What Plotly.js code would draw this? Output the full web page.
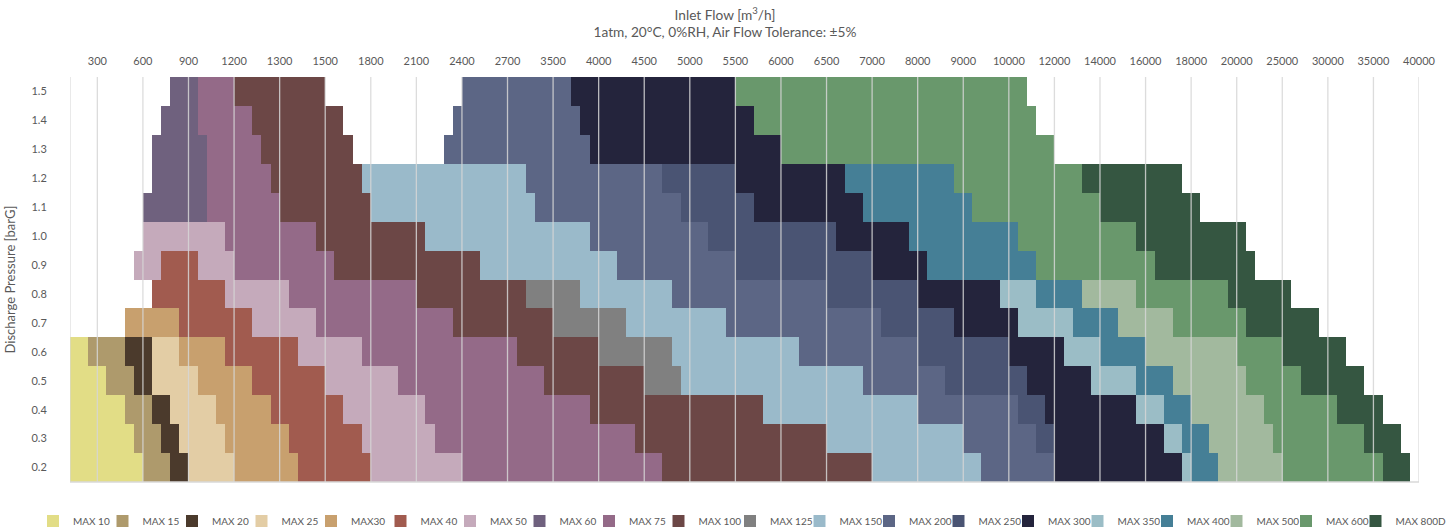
<!DOCTYPE html>
<html>
<head>
<meta charset="utf-8">
<script src="https://cdn.plot.ly/plotly-3.0.1.min.js"></script>
<style>html,body{margin:0;padding:0;background:#fff;}#chart{width:1450px;height:529px;}</style>
</head>
<body>
<div id="chart"></div>
<script>
// Discharge pressure rows (barG)
const pressures = [0.2, 0.3, 0.4, 0.5, 0.6, 0.7, 0.8, 0.9, 1.0, 1.1, 1.2, 1.3, 1.4, 1.5];
// Inlet flow tick labels (m3/h); each label sits every 5 grid steps starting at step 3
const flowTicks = ['300','600','900','1200','1300','1500','1800','2100','2400','2700','3500','4000','4500','5000','5500','6000','6500','7000','8000','9000','10000','12000','14000','16000','18000','20000','25000','30000','35000','40000'];
const tickStart = 3, tickStep = 5, gridMax = 148;

const models = ['MAX 10','MAX 15','MAX 20','MAX 25','MAX30','MAX 40','MAX 50','MAX 60','MAX 75','MAX 100','MAX 125','MAX 150','MAX 200','MAX 250','MAX 300','MAX 350','MAX 400','MAX 500','MAX 600','MAX 800D'];
const colors = ['#e2dd86','#ae9a6c','#4b3a2c','#e3cda5','#c8a06e','#a15b4f','#c5aabb','#6f617e','#946a88','#6c4746','#808080','#9abaca','#5c6685','#4a5473','#24243c','#9bbdc6','#457f96','#a2b99e','#69986c','#355641'];

const N = null;
// Flow range [from, to] per pressure row (0.2 ... 1.5), in flow-grid steps
const max10  = [[0,8],[0,7],[0,6],[0,4],[0,2],N,N,N,N,N,N,N,N,N];
const max15  = [[8,11],[7,10],[6,9],[4,7],[2,6],N,N,N,N,N,N,N,N,N];
const max20  = [[11,13],[10,12],[9,11],[7,9],[6,9],N,N,N,N,N,N,N,N,N];
const max25  = [[13,18],[12,17],[11,16],[9,14],[9,12],N,N,N,N,N,N,N,N,N];
const max30  = [[18,25],[17,24],[16,22],[14,20],[12,17],[6,12],N,N,N,N,N,N,N,N];
const max40  = [[25,33],[24,32],[22,30],[20,28],[17,25],[12,20],[9,17],[10,14],N,N,N,N,N,N];
const max50  = [[33,43],[32,40],[30,39],[28,36],[25,32],[20,27],[17,24],[7,18],[8,17],N,N,N,N,N];
const max60  = [N,N,N,N,N,N,N,N,N,[8,15],[9,15],[9,15],[10,14],[11,14]];
const max75  = [[43,65],[40,62],[39,57],[36,52],[32,49],[27,42],[24,38],[18,29],[17,27],[15,23],[15,22],[15,21],[14,20],[14,18]];
const max100 = [[65,88],[62,83],[57,76],[52,63],[49,58],[42,53],[38,50],[29,45],[27,39],[23,33],[22,32],[21,31],[20,30],[18,28]];
const max125 = [N,N,N,[63,67],[58,66],[53,61],[50,56],N,N,N,N,N,N,N];
const max150 = [[88,100],[83,98],[76,93],[67,87],[66,80],[61,72],[56,66],[45,60],[39,57],[33,51],[32,50],N,N,N];
const max200 = [[100,108],[98,106],[93,104],[87,96],[80,93],[72,89],[66,83],[60,73],[57,70],[51,67],[50,65],[41,57],[42,56],[43,55]];
const max250 = [N,[106,108],[104,107],[96,105],[93,103],[89,97],[83,93],[73,88],[70,84],[67,75],[65,73],N,N,N];
const max300 = [[108,122],[108,120],[107,117],[105,112],[103,109],[97,104],[93,102],[88,94],[84,92],[75,87],[73,85],[57,78],[56,75],[55,73]];
const max350 = [[122,123],[120,122],[117,120],[112,117],[109,113],[104,110],[102,106],N,N,N,N,N,N,N];
const max400 = [[123,126],[122,125],[120,123],[117,121],[113,118],[110,115],[106,111],[94,106],[92,104],[87,99],[85,97],N,N,N];
const max500 = [[126,133],[125,132],[123,131],[121,129],[118,128],[115,121],[111,117],N,N,N,N,N,N,N];
const max600 = [[133,144],[132,142],[131,139],[129,135],[128,133],[121,129],[117,127],[106,119],[104,117],[99,113],[97,111],[78,108],[75,106],[73,105]];
const max800d= [[144,147],[142,146],[139,144],[135,142],[133,140],[129,137],[127,134],[119,130],[117,129],[113,124],[111,122],N,N,N];

const ranges = [max10,max15,max20,max25,max30,max40,max50,max60,max75,max100,max125,max150,max200,max250,max300,max350,max400,max500,max600,max800d];

const FONT = 'Lato, "Open Sans", Arial, sans-serif';
const GREY = '#595959';

const traces = [];
models.forEach((name, i) => {
  const ys = [], bases = [], lens = [];
  ranges[i].forEach((r, k) => {
    if (r) { ys.push(pressures[k]); bases.push(r[0]); lens.push(r[1] - r[0]); }
  });
  const tr = {
    type: 'bar', orientation: 'h', name: name,
    y: ys, x: lens, base: bases, width: 0.1,
    marker: {color: colors[i], line: {width: 0}},
    legend: i < 10 ? 'legend' : 'legend2',
    legendrank: i + 1,
    hovertemplate: name + '<extra></extra>'
  };
  if (i === 9 || i === models.length - 1) tr.legendwidth = 60;
  traces.push(tr);
});
traces.reverse();

const tickVals = flowTicks.map((t, k) => tickStart + k * tickStep);

const shapes = [];
[0].concat(tickVals).forEach(v => {
  shapes.push({type: 'line', xref: 'x', yref: 'paper', x0: v, x1: v, y0: 0, y1: 1,
    layer: 'above', line: {color: 'rgba(214,214,214,0.85)', width: 1.3}});
});
shapes.push({type: 'line', xref: 'x', yref: 'paper', x0: 0, x1: gridMax, y0: 0, y1: 0,
  layer: 'above', line: {color: '#d9d9d9', width: 1.5}});

const legendBase = {
  orientation: 'h', xref: 'container', yref: 'container',
  xanchor: 'left', y: 0.0151, yanchor: 'middle',
  entrywidth: 24.5, entrywidthmode: 'pixels',
  font: {family: FONT, size: 10, color: GREY},
  bgcolor: 'rgba(0,0,0,0)', itemclick: false, itemdoubleclick: false
};

const layout = {
  width: 1450, height: 529,
  margin: {l: 70, r: 31, t: 77, b: 46.5},
  paper_bgcolor: '#ffffff', plot_bgcolor: '#ffffff',
  font: {family: FONT, color: GREY, size: 11},
  barmode: 'overlay',
  bargap: 0,
  title: {
    text: 'Inlet Flow [m<sup>3</sup>/h]<br>1atm, 20°C, 0%RH, Air Flow Tolerance: ±5%',
    font: {family: FONT, size: 13.7, color: GREY},
    x: 0.5, xanchor: 'center', xref: 'container',
    y: 0.963, yanchor: 'top', yref: 'container'
  },
  xaxis: {
    side: 'top', range: [0, gridMax],
    tickmode: 'array', tickvals: tickVals, ticktext: flowTicks,
    showgrid: false, zeroline: false, showline: false,
    ticks: 'outside', ticklen: 7, tickcolor: 'rgba(0,0,0,0)',
    tickfont: {family: FONT, size: 11, color: GREY},
    fixedrange: true
  },
  yaxis: {
    range: [0.15, 1.55],
    tickmode: 'array', tickvals: pressures, ticktext: pressures.map(p => p.toFixed(1)),
    showgrid: false, zeroline: false, showline: false,
    ticks: 'outside', ticklen: 20, tickcolor: 'rgba(0,0,0,0)',
    tickfont: {family: FONT, size: 11, color: GREY},
    title: {text: 'Discharge Pressure [barG]', font: {family: FONT, size: 13, color: GREY}, standoff: 12},
    fixedrange: true
  },
  showlegend: true,
  legend: Object.assign({}, legendBase, {x: 33 / 1450}),
  legend2: Object.assign({}, legendBase, {x: 730 / 1450}),
  shapes: shapes
};

Plotly.newPlot('chart', traces, layout, {displayModeBar: false, staticPlot: true});
</script>
</body>
</html>
